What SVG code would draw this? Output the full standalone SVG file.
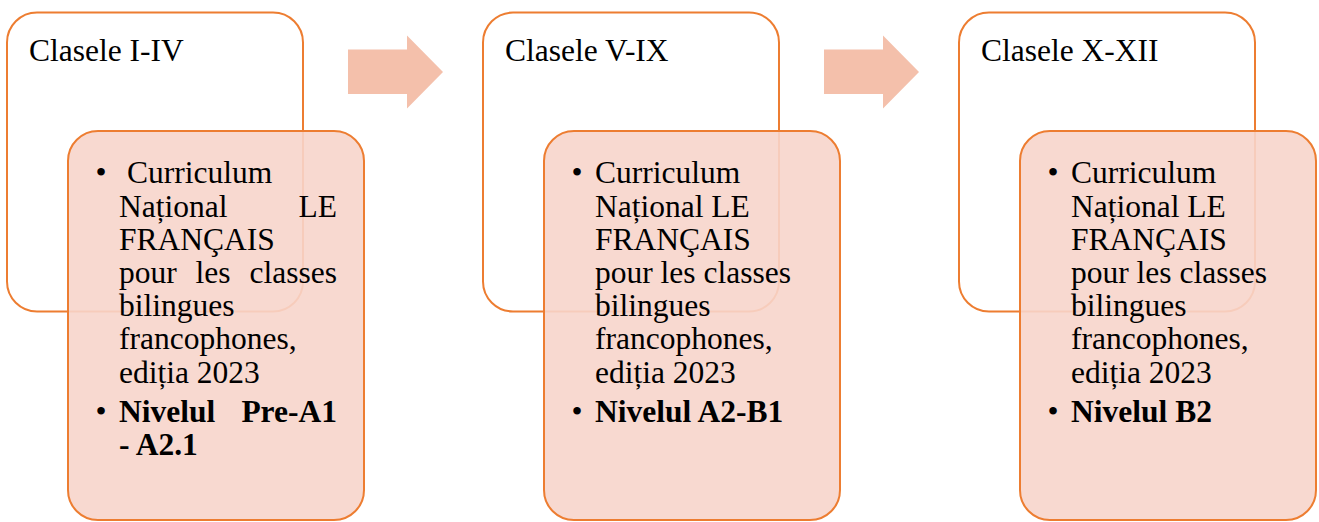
<svg xmlns="http://www.w3.org/2000/svg" width="1319" height="522" viewBox="0 0 1319 522">
<style>
.back{fill:#FFFFFF;stroke:#ED7D31;stroke-width:2}
.front{fill:#F7D5CB;fill-opacity:0.9;stroke:#ED7D31;stroke-width:2}
.arrow{fill:#F4C0AB}
.t{font-family:"Liberation Serif","Times New Roman",serif;font-size:31.5px;fill:#000}
.b{font-weight:bold}
.e{text-anchor:end}
.m{text-anchor:middle}
</style>
<rect width="1319" height="522" fill="#FFFFFF"/>
<g id="connectors">
<polygon class="arrow" points="348,49.5 407,49.5 407,35.5 443,72 407,108.5 407,94 348,94"/>
<polygon class="arrow" points="824,49.5 883,49.5 883,35.5 919,72 883,108.5 883,94 824,94"/>
</g>
<g id="node1">
<rect class="back" x="7" y="12.5" width="296" height="299" rx="30"/>
<rect class="front" x="68" y="131" width="296" height="389" rx="30"/>
<text class="t" x="29" y="60.7">Clasele I-IV</text>
<text class="t m" x="101" y="183.3">•</text>
<text class="t" x="127" y="183.3">Curriculum</text>
<text class="t" x="119" y="216.5">Național</text>
<text class="t e" x="337" y="216.5">LE</text>
<text class="t" x="119" y="249.7">FRANÇAIS</text>
<text class="t" x="119" y="282.9">pour</text>
<text class="t" x="195.6" y="282.9">les</text>
<text class="t e" x="337" y="282.9">classes</text>
<text class="t" x="119" y="316.1">bilingues</text>
<text class="t" x="119" y="349.3">francophones,</text>
<text class="t" x="119" y="382.5">ediția 2023</text>
<text class="t m" x="101" y="422">•</text>
<text class="t b" x="119" y="422">Nivelul</text>
<text class="t b e" x="337" y="422">Pre-A1</text>
<text class="t b" x="119" y="455">- A2.1</text>
</g>
<g id="node2">
<rect class="back" x="483" y="12.5" width="296" height="299" rx="30"/>
<rect class="front" x="544" y="131" width="296" height="389" rx="30"/>
<text class="t" x="505" y="60.7">Clasele V-IX</text>
<text class="t m" x="577" y="183.3">•</text>
<text class="t" x="595" y="183.3">Curriculum</text>
<text class="t" x="595" y="216.5">Național LE</text>
<text class="t" x="595" y="249.7">FRANÇAIS</text>
<text class="t" x="595" y="282.9">pour les classes</text>
<text class="t" x="595" y="316.1">bilingues</text>
<text class="t" x="595" y="349.3">francophones,</text>
<text class="t" x="595" y="382.5">ediția 2023</text>
<text class="t m" x="577" y="422">•</text>
<text class="t b" x="595" y="422">Nivelul A2-B1</text>
</g>
<g id="node3">
<rect class="back" x="959" y="12.5" width="296" height="299" rx="30"/>
<rect class="front" x="1020" y="131" width="296" height="389" rx="30"/>
<text class="t" x="981" y="60.7">Clasele X-XII</text>
<text class="t m" x="1053" y="183.3">•</text>
<text class="t" x="1071" y="183.3">Curriculum</text>
<text class="t" x="1071" y="216.5">Național LE</text>
<text class="t" x="1071" y="249.7">FRANÇAIS</text>
<text class="t" x="1071" y="282.9">pour les classes</text>
<text class="t" x="1071" y="316.1">bilingues</text>
<text class="t" x="1071" y="349.3">francophones,</text>
<text class="t" x="1071" y="382.5">ediția 2023</text>
<text class="t m" x="1053" y="422">•</text>
<text class="t b" x="1071" y="422">Nivelul B2</text>
</g>
</svg>
